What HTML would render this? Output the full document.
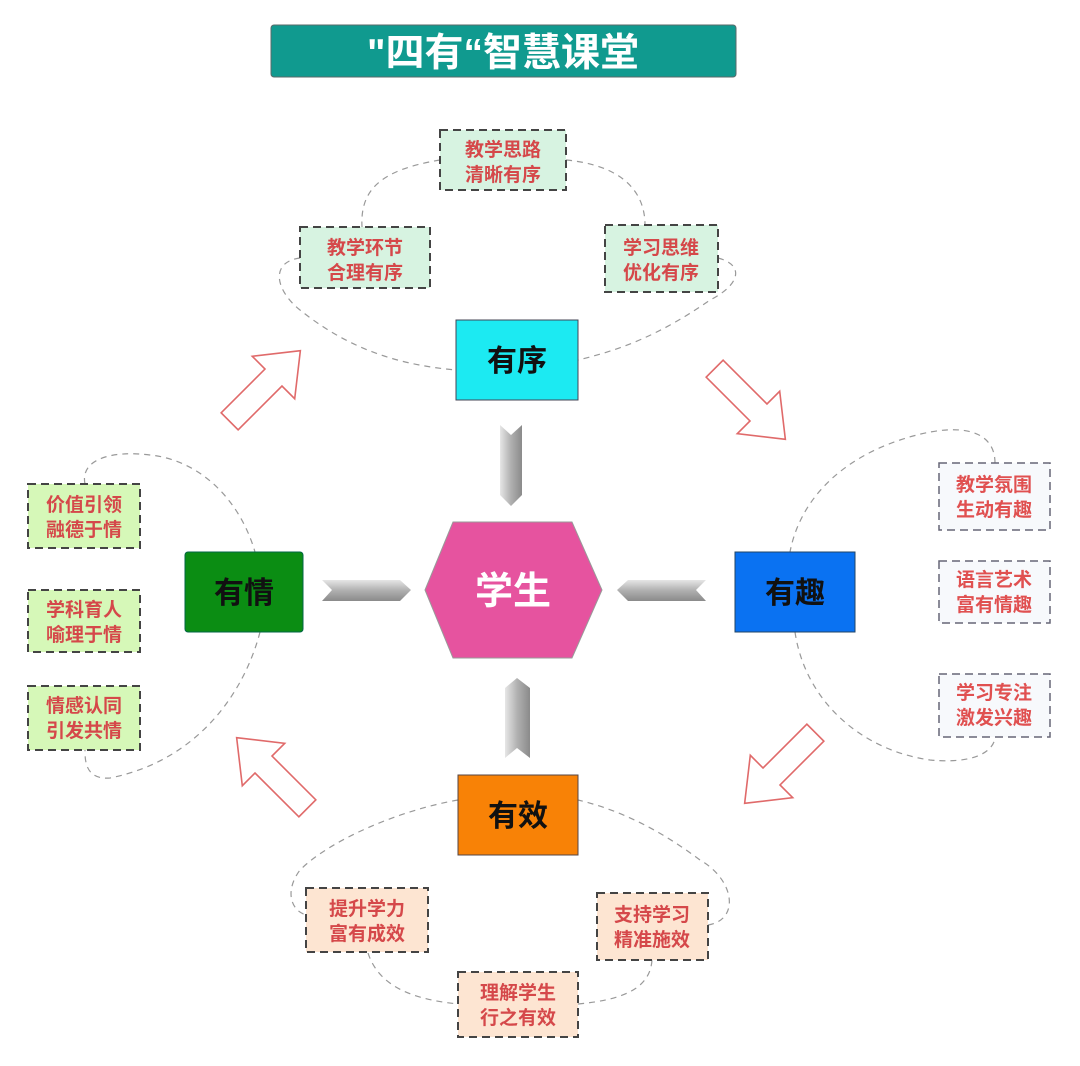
<!DOCTYPE html>
<html><head><meta charset="utf-8"><style>
html,body{margin:0;padding:0;background:#fff;}
svg{display:block;font-family:"Liberation Sans","Noto Sans CJK SC",sans-serif;}
.bt{font-size:19px;font-weight:bold;fill:#d5484a;}
.ct{font-size:30px;font-weight:bold;fill:#111;}
.dl{fill:none;stroke:#999;stroke-width:1.2;stroke-dasharray:6 5;}
.bx{stroke:#444;stroke-width:2;stroke-dasharray:8 5;}
.ar{fill:#fff;stroke:#e06a6a;stroke-width:1.6;}
</style></head><body>
<svg width="1080" height="1066" viewBox="0 0 1080 1066">
<defs>
<linearGradient id="gh" x1="0" y1="0" x2="0" y2="1"><stop offset="0" stop-color="#e6e6e6"/><stop offset="0.5" stop-color="#b0b0b0"/><stop offset="1" stop-color="#8a8a8a"/></linearGradient>
<linearGradient id="gv" x1="0" y1="0" x2="1" y2="0"><stop offset="0" stop-color="#e6e6e6"/><stop offset="0.5" stop-color="#b0b0b0"/><stop offset="1" stop-color="#8a8a8a"/></linearGradient>
<polygon id="arr" points="-50,-12 12,-12 12,-30 50,0 12,30 12,12 -50,12"/>
</defs>
<!-- title -->
<rect x="271" y="25" width="465" height="52" rx="3" fill="#109a8f" stroke="#5a6a6a" stroke-width="1"/>
<text x="503" y="66" text-anchor="middle" font-size="39" font-weight="bold" fill="#fff">"四有“智慧课堂</text>

<!-- dashed loops -->
<path class="dl" d="M440,160 C380,170 360,190 362,227 M300,258 C270,262 275,290 300,310 C350,350 400,365 456,370"/>
<path class="dl" d="M566,160 C620,165 645,190 645,225 M718,258 C745,265 740,285 710,300 C660,335 620,350 578,360"/>
<path class="dl" d="M85,484 C80,460 110,450 150,455 C200,460 240,500 255,552 M260,632 C245,690 200,760 110,778 C85,780 85,760 85,750"/>
<path class="dl" d="M995,463 C995,430 960,420 900,440 C840,460 800,500 790,552 M795,632 C805,700 860,750 930,760 C985,765 995,745 995,737"/>
<path class="dl" d="M458,800 C400,810 330,840 300,870 C285,890 290,910 306,915 M368,953 C380,990 420,1000 458,1004 M578,1004 C620,1000 650,990 652,960 M708,925 C740,920 735,880 700,860 C660,830 620,810 578,800"/>

<!-- top boxes -->
<rect class="bx" x="440" y="130" width="126" height="60" fill="#d7f3e1"/>
<text class="bt" x="503" y="156" text-anchor="middle">教学思路</text><text class="bt" x="503" y="181" text-anchor="middle">清晰有序</text>
<rect class="bx" x="300" y="227" width="130" height="61" fill="#d7f3e1"/>
<text class="bt" x="365" y="254" text-anchor="middle">教学环节</text><text class="bt" x="365" y="279" text-anchor="middle">合理有序</text>
<rect class="bx" x="605" y="225" width="113" height="67" fill="#d7f3e1"/>
<text class="bt" x="661" y="254" text-anchor="middle">学习思维</text><text class="bt" x="661" y="279" text-anchor="middle">优化有序</text>

<!-- left boxes -->
<g fill="#d6f8b8">
<rect class="bx" x="28" y="484" width="112" height="64"/>
<rect class="bx" x="28" y="590" width="112" height="62"/>
<rect class="bx" x="28" y="686" width="112" height="64"/>
</g>
<text class="bt" x="84" y="511" text-anchor="middle">价值引领</text><text class="bt" x="84" y="536" text-anchor="middle">融德于情</text>
<text class="bt" x="84" y="616" text-anchor="middle">学科育人</text><text class="bt" x="84" y="641" text-anchor="middle">喻理于情</text>
<text class="bt" x="84" y="712" text-anchor="middle">情感认同</text><text class="bt" x="84" y="737" text-anchor="middle">引发共情</text>

<!-- right boxes -->
<g fill="#f7f9fc" style="stroke:#667;stroke-width:1.5;stroke-dasharray:8 5">
<rect x="939" y="463" width="111" height="67"/>
<rect x="939" y="561" width="111" height="62"/>
<rect x="939" y="674" width="111" height="63"/>
</g>
<text class="bt" x="994" y="491" text-anchor="middle" style="fill:#e05050">教学氛围</text><text class="bt" x="994" y="516" text-anchor="middle" style="fill:#e05050">生动有趣</text>
<text class="bt" x="994" y="586" text-anchor="middle" style="fill:#e05050">语言艺术</text><text class="bt" x="994" y="611" text-anchor="middle" style="fill:#e05050">富有情趣</text>
<text class="bt" x="994" y="699" text-anchor="middle" style="fill:#e05050">学习专注</text><text class="bt" x="994" y="724" text-anchor="middle" style="fill:#e05050">激发兴趣</text>

<!-- bottom boxes -->
<g fill="#fde5d2">
<rect class="bx" x="306" y="888" width="122" height="64"/>
<rect class="bx" x="597" y="893" width="111" height="67"/>
<rect class="bx" x="458" y="972" width="120" height="65"/>
</g>
<text class="bt" x="367" y="915" text-anchor="middle">提升学力</text><text class="bt" x="367" y="940" text-anchor="middle">富有成效</text>
<text class="bt" x="652" y="921" text-anchor="middle">支持学习</text><text class="bt" x="652" y="946" text-anchor="middle">精准施效</text>
<text class="bt" x="518" y="999" text-anchor="middle">理解学生</text><text class="bt" x="518" y="1024" text-anchor="middle">行之有效</text>

<!-- main nodes -->
<rect x="456" y="320" width="122" height="80" fill="#1ceaf2" stroke="#445" stroke-width="1"/>
<text class="ct" x="517" y="371" text-anchor="middle">有序</text>
<rect x="185" y="552" width="118" height="80" rx="3" fill="#0b8d13" stroke="#064" stroke-width="1"/>
<text class="ct" x="244" y="603" text-anchor="middle">有情</text>
<rect x="735" y="552" width="120" height="80" fill="#0a72f2" stroke="#246" stroke-width="1"/>
<text class="ct" x="795" y="603" text-anchor="middle">有趣</text>
<rect x="458" y="775" width="120" height="80" fill="#f88206" stroke="#544" stroke-width="1"/>
<text class="ct" x="518" y="826" text-anchor="middle">有效</text>

<!-- hexagon -->
<polygon points="453,522 572,522 602,590 572,658 453,658 425,590" fill="#e6539f" stroke="#999" stroke-width="1"/>
<text x="513" y="604" text-anchor="middle" font-size="38" font-weight="bold" fill="#fff">学生</text>

<!-- gray chevrons -->
<polygon points="322,580 400,580 411,590 400,601 322,601 332,590" fill="url(#gh)"/>
<polygon points="706,580 628,580 617,590 628,601 706,601 696,590" fill="url(#gh)"/>
<polygon points="500,425 511,435 522,425 522,495 511,506 500,495" fill="url(#gv)"/>
<polygon points="505,688 517,678 530,688 530,758 517,748 505,758" fill="url(#gv)"/>

<!-- red outline arrows -->
<use href="#arr" class="ar" transform="translate(265,386) rotate(-45)"/>
<use href="#arr" class="ar" transform="translate(750,404) rotate(45)"/>
<use href="#arr" class="ar" transform="translate(780,768) rotate(135)"/>
<use href="#arr" class="ar" transform="translate(272,773) rotate(-135)"/>
</svg>
</body></html>
